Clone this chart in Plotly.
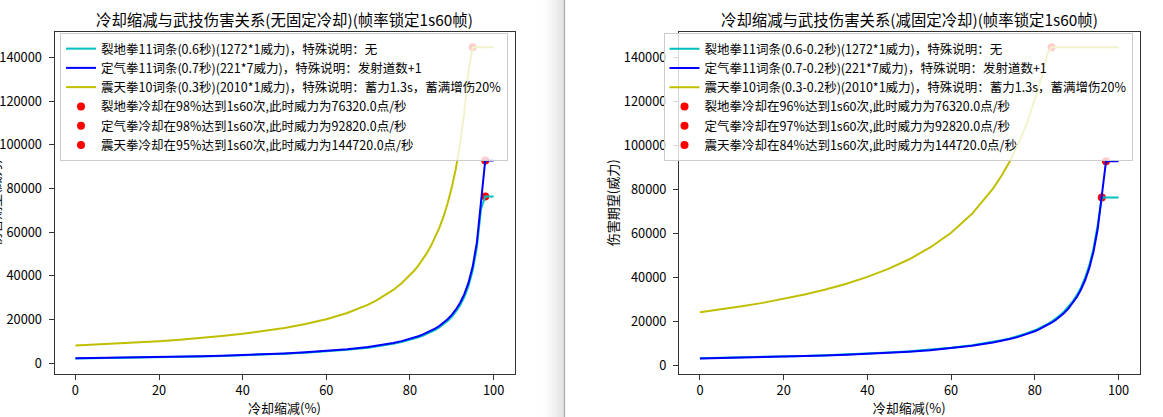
import plotly.graph_objects as go

# ---------------- data ----------------
cdr = [0, 5, 10, 15, 20, 25, 30, 35, 40, 45, 50, 55, 60, 65, 70, 72, 74, 76, 78,
       80, 81, 82, 83, 84, 85, 86, 87, 88, 89, 90, 91, 92, 93, 94, 95, 96, 97, 98, 99, 100]

# left panel: 无固定冷却
left_lie = [2120, 2232, 2356, 2494, 2650, 2827, 3029, 3262, 3533, 3855, 4240, 4711, 5300, 6057, 7067,
            7571, 8154, 8833, 9636,
            10600, 11158, 11778, 12471, 13250, 14133, 15143, 16308, 17667, 19273,
            21200, 23556, 26500, 30286, 35333, 42400, 53000, 70667, 76320, 76320, 76320]
left_ding = [2210, 2326, 2456, 2600, 2763, 2947, 3157, 3400, 3683, 4018, 4420, 4911, 5525, 6314, 7367,
             7893, 8500, 9208, 10045,
             11050, 11632, 12278, 13000, 13813, 14733, 15786, 17000, 18417, 20091,
             22100, 24556, 27625, 31571, 36833, 44200, 55250, 73667, 92820, 92820, 92820]
left_zhen = [8040, 8463, 8933, 9459, 10050, 10720, 11486, 12369, 13400, 14618, 16080, 17867, 20100, 22971, 26800,
             28714, 30923, 33500, 36545,
             40200, 42316, 44667, 47294, 50250, 53600, 57429, 61846, 67000, 73091,
             80400, 89333, 100500, 114857, 134000, 144720, 144720, 144720, 144720, 144720, 144720]
left_dot_x = [98, 98, 95]
left_dot_y = [76320, 92820, 144720]

# right panel: 减固定冷却
right_lie = [3180, 3347, 3533, 3741, 3975, 4240, 4543, 4892, 5300, 5782, 6360, 7067, 7950, 9086, 10600,
             11357, 12231, 13250, 14455,
             15900, 16737, 17667, 18706, 19875, 21200, 22714, 24462, 26500, 28909,
             31800, 35333, 39750, 45429, 53000, 63600, 76320, 76320, 76320, 76320, 76320]
right_ding = [3094, 3257, 3438, 3640, 3868, 4125, 4420, 4760, 5157, 5626, 6188, 6876, 7735, 8840, 10313,
              11050, 11900, 12892, 14064,
              15470, 16284, 17189, 18200, 19338, 20627, 22100, 23800, 25783, 28127,
              30940, 34378, 38675, 44200, 51567, 61880, 77350, 92820, 92820, 92820, 92820]
right_zhen = [24120, 25389, 26800, 28376, 30150, 32160, 34457, 37108, 40200, 43855, 48240, 53600, 60300, 68914, 80400,
              86143, 92769, 100500, 109636,
              120600, 126947, 134000, 141882, 144720, 144720, 144720, 144720, 144720, 144720,
              144720, 144720, 144720, 144720, 144720, 144720, 144720, 144720, 144720, 144720, 144720]
right_dot_x = [96, 97, 84]
right_dot_y = [76320, 92820, 144720]

left_line_names = ["裂地拳11词条(0.6秒)(1272*1威力)，特殊说明：无",
                   "定气拳11词条(0.7秒)(221*7威力)，特殊说明：发射道数+1",
                   "震天拳10词条(0.3秒)(2010*1威力)，特殊说明：蓄力1.3s，蓄满增伤20%"]
left_dot_names = ["裂地拳冷却在98%达到1s60次,此时威力为76320.0点/秒",
                  "定气拳冷却在98%达到1s60次,此时威力为92820.0点/秒",
                  "震天拳冷却在95%达到1s60次,此时威力为144720.0点/秒"]
right_line_names = ["裂地拳11词条(0.6-0.2秒)(1272*1威力)，特殊说明：无",
                    "定气拳11词条(0.7-0.2秒)(221*7威力)，特殊说明：发射道数+1",
                    "震天拳10词条(0.3-0.2秒)(2010*1威力)，特殊说明：蓄力1.3s，蓄满增伤20%"]
right_dot_names = ["裂地拳冷却在96%达到1s60次,此时威力为76320.0点/秒",
                   "定气拳冷却在97%达到1s60次,此时威力为92820.0点/秒",
                   "震天拳冷却在84%达到1s60次,此时威力为144720.0点/秒"]

titles = ["冷却缩减与武技伤害关系(无固定冷却)(帧率锁定1s60帧)",
          "冷却缩减与武技伤害关系(减固定冷却)(帧率锁定1s60帧)"]
x_title = "冷却缩减(%)"
y_title = "伤害期望(威力)"
x_ticks = [0, 20, 40, 60, 80, 100]
y_ticks = [0, 20000, 40000, 60000, 80000, 100000, 120000, 140000]
y_ticktext = ["0", "20000", "40000", "60000", "80000", "100000", "120000", "140000"]

# ---------------- styling ----------------
W, H = 1163, 417
FONT = "Noto Sans CJK SC, Noto Sans, sans-serif"
line_colors = ["#00BFBF", "#0000FF", "#BFBF00"]
dot_color = "#FF0000"

def px_x(p):
    return p / W

def px_y(p):
    return 1 - p / H

left_dom = [px_x(54.5), px_x(514.5)]
right_dom = [px_x(679.0), px_x(1139.5)]
y_dom = [px_y(374.0), px_y(31.7)]

fig = go.Figure()

panels = [
    ("x", "y", "legend", [left_lie, left_ding, left_zhen], left_line_names,
     left_dot_x, left_dot_y, left_dot_names),
    ("x2", "y2", "legend2", [right_lie, right_ding, right_zhen], right_line_names,
     right_dot_x, right_dot_y, right_dot_names),
]

for xa, ya, lg, series, lnames, dx, dy, dnames in panels:
    # dots first (drawn beneath lines, like matplotlib zorder)
    for i in range(3):
        fig.add_trace(go.Scatter(
            x=[dx[i]], y=[dy[i]], mode="markers", name=dnames[i],
            marker=dict(color=dot_color, size=8, line=dict(width=0)),
            xaxis=xa, yaxis=ya, legend=lg, legendrank=10 + i,
        ))
    for i in range(3):
        fig.add_trace(go.Scatter(
            x=cdr, y=series[i], mode="lines", name=lnames[i],
            line=dict(color=line_colors[i], width=2),
            xaxis=xa, yaxis=ya, legend=lg, legendrank=1 + i,
        ))

axis_common = dict(
    showgrid=False, zeroline=False, showline=True, mirror=True, automargin=False,
    linecolor="#333333", linewidth=1, ticks="outside", ticklen=5, tickwidth=1,
    tickcolor="#333333", tickfont=dict(family=FONT, size=12.8, color="#000000"),
)
title_font = dict(family=FONT, size=13, color="#000000")

legend_common = dict(
    xanchor="right", yanchor="top", y=px_y(33.0),
    bgcolor="rgba(255,255,255,0.8)", bordercolor="#cccccc", borderwidth=1,
    font=dict(family=FONT, size=12.5, color="#000000"), traceorder="normal",
    tracegroupgap=0,
)

fig.update_layout(
    width=W, height=H,
    margin=dict(l=0, r=0, t=0, b=0, autoexpand=False),
    paper_bgcolor="white", plot_bgcolor="white",
    font=dict(family=FONT, color="#000000"),
    xaxis=dict(domain=left_dom, anchor="y", range=[-5, 105], tickvals=x_ticks,
               title=dict(text=x_title, font=title_font, standoff=1), **axis_common),
    yaxis=dict(domain=y_dom, anchor="x", range=[-5010, 151850], tickvals=y_ticks,
               ticktext=y_ticktext, ticklabelstandoff=4, **axis_common),
    xaxis2=dict(domain=right_dom, anchor="y2", range=[-5, 105], tickvals=x_ticks,
                title=dict(text=x_title, font=title_font, standoff=1), **axis_common),
    yaxis2=dict(domain=y_dom, anchor="x2", range=[-3987, 151801], tickvals=y_ticks,
                ticktext=y_ticktext, ticklabelstandoff=4,
                title=dict(text=y_title, font=title_font, standoff=2), **axis_common),
    legend=dict(x=px_x(508.0), **legend_common),
    legend2=dict(x=px_x(1132.5), **legend_common),
    showlegend=True,
)

# left panel y-axis label: the reference screenshot cuts it at the left edge
fig.add_annotation(text=y_title, xref="paper", yref="paper", x=px_x(-5.0),
                   y=(y_dom[0] + y_dom[1]) / 2, xanchor="center", yanchor="middle",
                   textangle=-90, showarrow=False, font=title_font)

# subplot titles
for dom, t in zip([left_dom, right_dom], titles):
    fig.add_annotation(text=t, xref="paper", yref="paper", x=(dom[0] + dom[1]) / 2,
                       y=px_y(19.3), xanchor="center", yanchor="middle", showarrow=False,
                       font=dict(family=FONT, size=15.4, color="#000000"))

# window separator (shadow + edge line) between the two screenshots
shades = ["#fdfdfd", "#fafafa", "#f6f6f6", "#f2f2f2", "#eeeeee", "#e9e9e9", "#e4e4e4"]
x0 = 543.0
for c in shades:
    fig.add_shape(type="rect", xref="paper", yref="paper", x0=px_x(x0), x1=px_x(x0 + 3),
                  y0=0, y1=1, fillcolor=c, line=dict(width=0), layer="below")
    x0 += 3
fig.add_shape(type="line", xref="paper", yref="paper", x0=px_x(564.5), x1=px_x(564.5),
              y0=0, y1=1, line=dict(color="#a8a8a8", width=1.2))

fig.write_html(
    "out.html",
    config={"displayModeBar": False},
    post_script="document.body.style.margin='0';document.body.style.overflow='hidden';",
)
